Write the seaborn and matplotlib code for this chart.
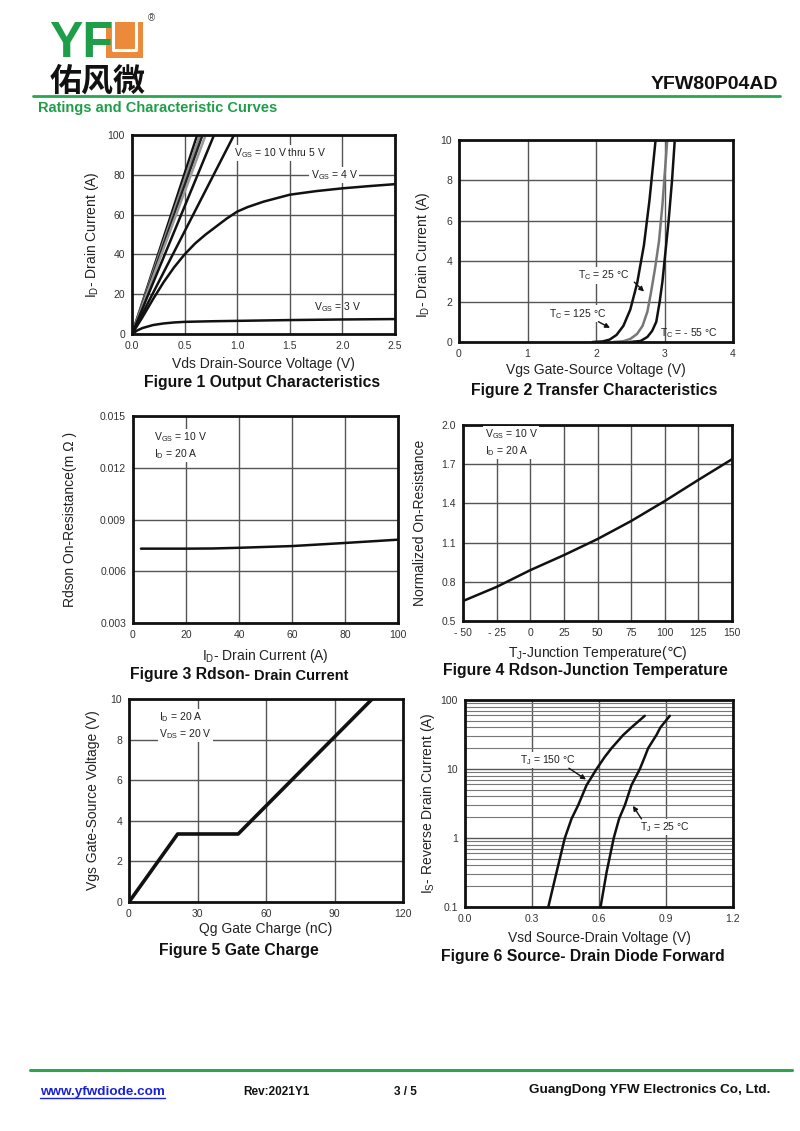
import numpy as np
import pandas as pd
import matplotlib
matplotlib.use('Agg')
import matplotlib.pyplot as plt
from matplotlib.patches import Rectangle
from matplotlib.lines import Line2D
from matplotlib.ticker import LogLocator, NullFormatter
import seaborn as sns

# ---------------- data ----------------
# Figure 1 output characteristics
f1_vgs_steep = ['10 V', '9 V', '8 V', '7 V', '6 V', '5 V']
f1_vds_at_100a = [0.62, 0.645, 0.67, 0.70, 0.78, 0.97]
f1_steep_colors = ['#111111', '#8a8a8a', '#222222', '#9a9a9a', '#111111', '#111111']
f1_vds_4v = [0, 0.1, 0.2, 0.3, 0.4, 0.5, 0.6, 0.7, 0.8, 0.9, 1.0, 1.1, 1.25, 1.5, 1.75, 2.0, 2.25, 2.5]
f1_id_4v = [0, 8.5, 17.5, 26, 33.5, 40, 45.5, 50, 54, 58, 61.5, 63.8, 66.5, 70, 71.8, 73.2, 74.3, 75.3]
f1_vds_3v = [0, 0.05, 0.1, 0.2, 0.3, 0.4, 0.5, 0.75, 1.0, 1.5, 2.0, 2.5]
f1_id_3v = [0, 1.8, 3, 4.5, 5.3, 5.8, 6.1, 6.4, 6.6, 7.0, 7.3, 7.5]

# Figure 2 transfer characteristics
f2_vgs_125 = [1.95, 2.1, 2.2, 2.3, 2.4, 2.5, 2.6, 2.7, 2.78, 2.87]
f2_id_125 = [0, 0.03, 0.12, 0.35, 0.8, 1.6, 2.9, 4.8, 7.0, 10]
f2_vgs_25 = [2.25, 2.4, 2.5, 2.6, 2.68, 2.75, 2.8, 2.86, 2.92, 2.97, 3.04]
f2_id_25 = [0, 0.04, 0.15, 0.4, 0.8, 1.5, 2.4, 3.6, 5.0, 6.8, 10]
f2_vgs_m55 = [2.5, 2.65, 2.75, 2.82, 2.88, 2.93, 2.97, 3.0, 3.06, 3.11, 3.15]
f2_id_m55 = [0, 0.05, 0.25, 0.55, 1.0, 2.0, 3.0, 4.0, 6.0, 8.0, 10]

# Figure 3 Rdson vs drain current
f3_id = [3, 20, 30, 40, 60, 80, 100]
f3_rdson = [0.00731, 0.00731, 0.00732, 0.00736, 0.00746, 0.00764, 0.00783]

# Figure 4 Rdson vs junction temperature
f4_tj = [-50, -25, 0, 25, 50, 75, 100, 125, 150]
f4_rnorm = [0.653, 0.761, 0.889, 1.004, 1.127, 1.265, 1.418, 1.58, 1.738]

# Figure 5 gate charge
f5_qg = [0, 21.3, 47.8, 106.5]
f5_vgs = [0, 3.35, 3.35, 10]

# Figure 6 source-drain diode forward
f6_vsd_150 = [0.373, 0.41, 0.447, 0.477, 0.507, 0.544, 0.589, 0.626, 0.656, 0.708, 0.745, 0.805]
f6_is_150 = [0.1, 0.32, 1, 1.9, 3, 5.8, 10, 15, 20, 31, 40, 59]
f6_vsd_25 = [0.607, 0.634, 0.666, 0.69, 0.716, 0.745, 0.783, 0.805, 0.82, 0.857, 0.875, 0.917]
f6_is_25 = [0.1, 0.32, 1, 1.9, 3, 5.8, 10, 15, 20, 31, 40, 59]

# tick labels
f1_xticks = [0, 0.5, 1.0, 1.5, 2.0, 2.5]
f1_xlabels = ['0.0', '0.5', '1.0', '1.5', '2.0', '2.5']
f1_yticks = [0, 20, 40, 60, 80, 100]
f2_xticks = [0, 1, 2, 3, 4]
f2_yticks = [0, 2, 4, 6, 8, 10]
f3_xticks = [0, 20, 40, 60, 80, 100]
f3_yticks = [0.003, 0.006, 0.009, 0.012, 0.015]
f3_ylabels = ['0.003', '0.006', '0.009', '0.012', '0.015']
f4_xticks = [-50, -25, 0, 25, 50, 75, 100, 125, 150]
f4_xlabels = ['- 50', '- 25', '0', '25', '50', '75', '100', '125', '150']
f4_yticks = [0.5, 0.8, 1.1, 1.4, 1.7, 2.0]
f4_ylabels = ['0.5', '0.8', '1.1', '1.4', '1.7', '2.0']
f5_xticks = [0, 30, 60, 90, 120]
f5_yticks = [0, 2, 4, 6, 8, 10]
f6_xticks = [0.0, 0.3, 0.6, 0.9, 1.2]
f6_xlabels = ['0.0', '0.3', '0.6', '0.9', '1.2']
f6_yticks = [0.1, 1, 10, 100]
f6_ylabels = ['0.1', '1', '10', '100']

# ---------------- style ----------------
sns.set_theme(style='white')
plt.rcParams['font.family'] = ['Liberation Sans', 'Noto Sans CJK SC', 'DejaVu Sans']
plt.rcParams['mathtext.fontset'] = 'custom'
plt.rcParams['mathtext.rm'] = 'Liberation Sans'
plt.rcParams['mathtext.it'] = 'Liberation Sans'
plt.rcParams['mathtext.bf'] = 'Liberation Sans:bold'
plt.rcParams['mathtext.sf'] = 'DejaVu Sans'

W, H = 800, 1131
GREEN = '#1f9e4a'
ORANGE = '#ec8a3c'
GRID = '#555555'

fig = plt.figure(figsize=(W / 100, H / 100), dpi=100)


def px(x, y):
    return x / W, 1 - y / H


def make_ax(left, right, top, bottom):
    ax = fig.add_axes([left / W, 1 - bottom / H, (right - left) / W, (bottom - top) / H])
    for s in ax.spines.values():
        s.set_linewidth(2.0)
        s.set_color('#111111')
        s.set_visible(True)
    ax.tick_params(labelsize=7.5, length=0, pad=5, labelcolor='#333333')
    ax.grid(True, color=GRID, lw=1.0)
    ax.set_axisbelow(True)
    return ax


def labels(ax, xl, yl, xoff, yoff, ypos=0.5):
    ax.set_xlabel(xl, fontsize=10, color='#222222')
    ax.set_ylabel(yl, fontsize=10, color='#222222', va='center')
    ax.xaxis.set_label_coords(0.5, -xoff)
    ax.yaxis.set_label_coords(-yoff, ypos)


box = dict(facecolor='white', edgecolor='none', pad=1.0)
note_kw = dict(fontsize=7.5, color='#222222')
arrow_kw = dict(arrowstyle='-|>', color='#111111', lw=1, mutation_scale=7)

# ---------------- Figure 1 ----------------
ax1 = make_ax(132, 395, 135, 334)
for lab, v, c in zip(f1_vgs_steep, f1_vds_at_100a, f1_steep_colors):
    sns.lineplot(x=[0, v], y=[0, 100], color=c, lw=1.8, ax=ax1, sort=False, estimator=None)
sns.lineplot(x=f1_vds_4v, y=f1_id_4v, color='#111111', lw=1.8, ax=ax1, sort=False, estimator=None)
sns.lineplot(x=f1_vds_3v, y=f1_id_3v, color='#111111', lw=1.8, ax=ax1, sort=False, estimator=None)
ax1.set_xlim(0, 2.5)
ax1.set_ylim(0, 100)
ax1.set_xticks(f1_xticks, f1_xlabels)
ax1.set_yticks(f1_yticks)
ax1.text(0.97, 91, r'V$_{\rm GS}$ = 10 V thru 5 V', bbox=box, va='center', **note_kw)
ax1.text(1.70, 80, r'V$_{\rm GS}$ = 4 V', bbox=box, va='center', **note_kw)
ax1.text(1.73, 13.7, r'V$_{\rm GS}$ = 3 V', va='center', **note_kw)
labels(ax1, 'Vds Drain-Source Voltage (V)', r'I$_{\rm D}$- Drain Current (A)', 0.116, 0.152)

# ---------------- Figure 2 ----------------
ax2 = make_ax(459, 733, 140, 342)
sns.lineplot(x=f2_vgs_125, y=f2_id_125, color='#111111', lw=1.8, ax=ax2, sort=False, estimator=None)
sns.lineplot(x=f2_vgs_25, y=f2_id_25, color='#777777', lw=1.8, ax=ax2, sort=False, estimator=None)
sns.lineplot(x=f2_vgs_m55, y=f2_id_m55, color='#111111', lw=1.8, ax=ax2, sort=False, estimator=None)
ax2.set_xlim(0, 4)
ax2.set_ylim(0, 10)
ax2.set_xticks(f2_xticks)
ax2.set_yticks(f2_yticks)
ax2.text(1.73, 3.3, r'T$_{\rm C}$ = 25 °C', bbox=box, va='center', **note_kw)
ax2.annotate('', xy=(2.73, 2.4), xytext=(2.53, 3.06), arrowprops=arrow_kw)
ax2.text(1.31, 1.4, r'T$_{\rm C}$ = 125 °C', bbox=box, va='center', **note_kw)
ax2.annotate('', xy=(2.24, 0.63), xytext=(2.0, 1.07), arrowprops=arrow_kw)
ax2.text(2.93, 0.42, r'T$_{\rm C}$ = - 55 °C', va='center', **note_kw)
labels(ax2, 'Vgs Gate-Source Voltage (V)', r'I$_{\rm D}$- Drain Current (A)', 0.104, 0.131, 0.43)

# ---------------- Figure 3 ----------------
ax3 = make_ax(133, 398, 416, 623)
sns.lineplot(x=f3_id, y=f3_rdson, color='#111111', lw=1.8, ax=ax3, sort=False, estimator=None)
ax3.set_xlim(0, 100)
ax3.set_ylim(0.003, 0.015)
ax3.set_xticks(f3_xticks)
ax3.set_yticks(f3_yticks, f3_ylabels)
ax3.text(7.8, 0.0133, 'V$_{\\rm GS}$ = 10 V\nI$_{\\rm D}$ = 20 A', bbox=box, va='center',
         linespacing=1.3, **note_kw)
labels(ax3, r'I$_{\rm D}$- Drain Current (A)', 'Rdson On-Resistance(m Ω )', 0.116, 0.238)

# ---------------- Figure 4 ----------------
ax4 = make_ax(463, 732, 425, 621)
sns.lineplot(x=f4_tj, y=f4_rnorm, color='#111111', lw=1.8, ax=ax4, sort=False, estimator=None)
ax4.set_xlim(-50, 150)
ax4.set_ylim(0.5, 2.0)
ax4.set_xticks(f4_xticks, f4_xlabels)
ax4.set_yticks(f4_yticks, f4_ylabels)
ax4.text(-34, 1.865, 'V$_{\\rm GS}$ = 10 V\nI$_{\\rm D}$ = 20 A', bbox=box, va='center',
         linespacing=1.3, **note_kw)
labels(ax4, r'T$_{\rm J}$-Junction Temperature($\mathsf{℃}$)', 'Normalized On-Resistance', 0.117, 0.16)

# ---------------- Figure 5 ----------------
ax5 = make_ax(129, 403, 699, 902)
sns.lineplot(x=f5_qg, y=f5_vgs, color='#111111', lw=2.6, ax=ax5, sort=False, estimator=None)
ax5.set_xlim(0, 120)
ax5.set_ylim(0, 10)
ax5.set_xticks(f5_xticks)
ax5.set_yticks(f5_yticks)
ax5.text(13.3, 8.7, 'I$_{\\rm D}$ = 20 A\nV$_{\\rm DS}$ = 20 V', bbox=box, va='center',
         linespacing=1.3, **note_kw)
labels(ax5, 'Qg Gate Charge (nC)', 'Vgs Gate-Source Voltage (V)', 0.1, 0.131)

# ---------------- Figure 6 ----------------
ax6 = make_ax(465, 733, 700, 907)
ax6.set_yscale('log')
sns.lineplot(x=f6_vsd_150, y=f6_is_150, color='#111111', lw=1.8, ax=ax6, sort=False, estimator=None)
sns.lineplot(x=f6_vsd_25, y=f6_is_25, color='#111111', lw=1.8, ax=ax6, sort=False, estimator=None)
ax6.set_xlim(0, 1.2)
ax6.set_ylim(0.1, 100)
ax6.set_xticks(f6_xticks, f6_xlabels)
ax6.set_yticks(f6_yticks, f6_ylabels)
ax6.yaxis.set_minor_locator(LogLocator(base=10, subs=range(2, 10)))
ax6.yaxis.set_minor_formatter(NullFormatter())
ax6.tick_params(which='minor', length=0)
ax6.grid(True, which='minor', axis='y', color='#777777', lw=0.8)
ax6.text(0.246, 13.5, r'T$_{\rm J}$ = 150 °C', bbox=box, va='center', **note_kw)
ax6.annotate('', xy=(0.552, 6.7), xytext=(0.455, 10.8), arrowprops=arrow_kw)
ax6.text(0.783, 1.45, r'T$_{\rm J}$ = 25 °C', bbox=box, va='center', **note_kw)
ax6.annotate('', xy=(0.745, 3.16), xytext=(0.797, 1.75), arrowprops=arrow_kw)
labels(ax6, 'Vsd Source-Drain Voltage (V)', r'I$_{\rm S}$- Reverse Drain Current (A)', 0.116, 0.138)

# ---------------- figure captions ----------------
cap = dict(fontsize=11.3, fontweight='bold', color='#111111', ha='center', va='center')
fig.text(*px(262, 383), 'Figure 1 Output Characteristics', **cap)
fig.text(*px(594, 390), 'Figure 2 Transfer Characteristics', **cap)
fig.text(*px(254, 675), 'Figure 3 Rdson- ', fontsize=11.3, fontweight='bold', color='#111111',
         ha='right', va='center')
fig.text(*px(254, 676), 'Drain Current', fontsize=10.5, fontweight='bold', color='#111111',
         ha='left', va='center')
fig.text(*px(585, 670), 'Figure 4 Rdson-Junction Temperature', **cap)
fig.text(*px(239, 951), 'Figure 5 Gate Charge', **cap)
fig.text(*px(583, 957), 'Figure 6 Source- Drain Diode Forward', **cap)

# ---------------- header ----------------
fig.text(*px(49, 57), 'YF', fontsize=36, fontweight='bold', color=GREEN,
         family=['Liberation Sans Narrow', 'Liberation Sans'], ha='left', va='baseline')
fig.patches.append(Rectangle(px(106, 58), 37 / W, 36 / H, transform=fig.transFigure,
                             facecolor=ORANGE, edgecolor='none'))
fig.lines.append(Line2D([113 / W, 113 / W, 136 / W, 136 / W],
                        [1 - 22 / H, 1 - 50 / H, 1 - 50 / H, 1 - 22 / H],
                        transform=fig.transFigure, color='white', lw=2.2))
fig.text(*px(148, 18), '®', fontsize=7, color='#444444', ha='left', va='center')
fig.text(*px(50, 91), '佑风微', fontsize=23, fontweight='bold', color='#111111',
         family=['Noto Sans CJK SC'], ha='left', va='baseline')
fig.text(*px(778, 89), 'YFW80P04AD', fontsize=14, fontweight='bold', color='#111111',
         ha='right', va='baseline')
fig.lines.append(Line2D([33 / W, 780 / W], [1 - 96 / H, 1 - 96 / H],
                        transform=fig.transFigure, color='#2aa64e', lw=2))
fig.text(*px(38, 112), 'Ratings and Characteristic Curves', fontsize=10.5, fontweight='bold',
         color=GREEN, ha='left', va='baseline')

# ---------------- footer ----------------
fig.lines.append(Line2D([30 / W, 792 / W], [1 - 1070 / H, 1 - 1070 / H],
                        transform=fig.transFigure, color='#2aa64e', lw=2.2))
fig.text(*px(40, 1095), 'www.yfwdiode.com', fontsize=9.7, fontweight='bold', color='#1a22d8',
         ha='left', va='baseline')
fig.lines.append(Line2D([40 / W, 165 / W], [1 - 1098 / H, 1 - 1098 / H],
                        transform=fig.transFigure, color='#1a22d8', lw=1))
fig.text(*px(243, 1095), 'Rev:2021Y1', fontsize=8.5, fontweight='bold', color='#111111',
         ha='left', va='baseline')
fig.text(*px(394, 1095), '3 / 5', fontsize=8.5, fontweight='bold', color='#111111',
         ha='left', va='baseline')
fig.text(*px(770, 1093), 'GuangDong YFW Electronics Co, Ltd.', fontsize=9.7, fontweight='bold',
         color='#111111', ha='right', va='baseline')

fig.savefig('out.png', dpi=100, facecolor='white')
